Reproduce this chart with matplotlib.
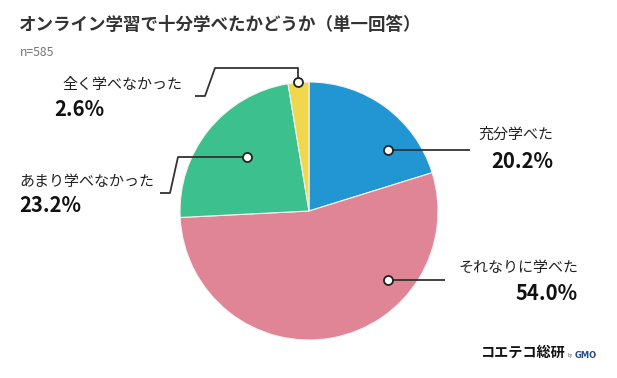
import matplotlib
matplotlib.use("Agg")
import matplotlib.pyplot as plt

plt.rcParams['font.family'] = ['Noto Sans CJK JP', 'DejaVu Sans']

title = "オンライン学習で十分学べたかどうか（単一回答）"
n_label = "n=585"
categories = ["充分学べた", "それなりに学べた", "あまり学べなかった", "全く学べなかった"]
shares = [20.2, 54.0, 23.2, 2.6]
colors = ["#2196d3", "#e08595", "#3cc08e", "#f0d84e"]

W, H = 617, 378


def Y(y):
    return H - y


fig = plt.figure(figsize=(6.17, 3.78), dpi=100)
ax = fig.add_axes([0, 0, 1, 1])

ax.pie(shares, colors=colors, startangle=90, counterclock=False,
       center=(309, Y(211)), radius=129,
       wedgeprops=dict(edgecolor="#f4f4f4", linewidth=0.8))
ax.set_xlim(0, W)
ax.set_ylim(0, H)
ax.set_aspect("equal")
ax.axis("off")

# leader lines (pixel positions), dot at first point
leaders = [
    [(388, 150), (470, 150)],
    [(388, 280), (445, 280)],
    [(247, 157), (178, 157), (170, 193), (160, 193)],
    [(298, 82), (298, 68), (215, 68), (205, 96), (195, 96)],
]
# label text positions: (x, y_label, y_pct, x_pct, ha)
label_pos = [
    (553, 135, 161, 553, "right"),
    (578, 268, 293, 578, "right"),
    (19, 182, 206, 19, "left"),
    (62, 85, 110, 54, "left"),
]

for cat, val, pts, (lx, ly, py, px, ha) in zip(categories, shares, leaders, label_pos):
    xs = [p[0] for p in pts]
    ys = [Y(p[1]) for p in pts]
    ax.plot(xs, ys, color="#333333", lw=1.3, zorder=3, solid_capstyle="butt")
    ax.plot(xs[0], ys[0], "o", ms=6.5, mfc="white", mec="#222222", mew=1.3, zorder=4)
    ax.text(lx, Y(ly), cat, ha=ha, va="center", fontsize=10.8, color="#222222")
    ax.text(px, Y(py), f"{val:.1f}%", ha=ha, va="center", fontsize=14.6,
            fontweight="bold", color="#111111")

ax.text(19, Y(25), title, ha="left", va="center", fontsize=12.6,
        fontweight="bold", color="#333333")
ax.text(20, Y(52), n_label, ha="left", va="center", fontsize=8.8, color="#777777")

# logo
ax.text(481, Y(353), "コエテコ総研", ha="left", va="center", fontsize=10.2,
        fontweight="bold", color="#111111")
ax.text(568, Y(356), "by", ha="left", va="center", fontsize=3.2, color="#555555")
ax.text(575, Y(355), "GMO", ha="left", va="center", fontsize=6,
        fontweight="bold", color="#2a4a8a", family=["DejaVu Sans"])

fig.savefig("out.png", dpi=100, facecolor="white")
